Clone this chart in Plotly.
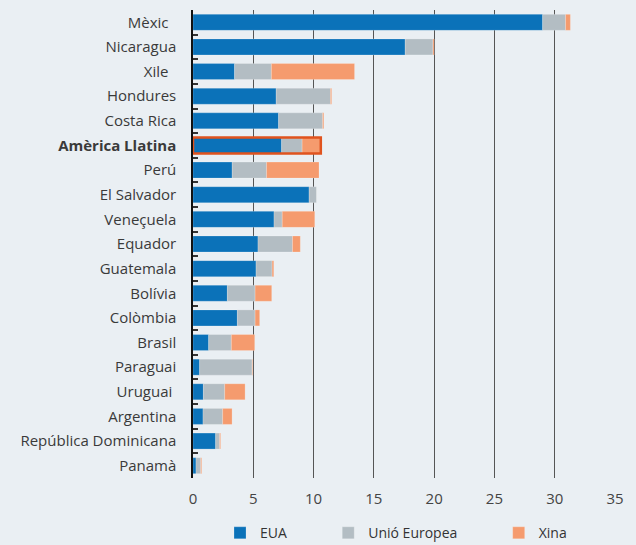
import plotly.graph_objects as go

categories = ["Mèxic\u00a0\u00a0", "Nicaragua", "Xile\u00a0\u00a0", "Hondures", "Costa Rica",
              "<b>Amèrica Llatina</b>", "Perú", "El Salvador", "Veneçuela", "Equador",
              "Guatemala", "Bolívia", "Colòmbia", "Brasil", "Paraguai", "Uruguai\u00a0",
              "Argentina", "República Dominicana", "Panamà"]
eua  = [29.0, 17.6, 3.45, 6.9, 7.1, 7.35, 3.25, 9.63, 6.72, 5.39, 5.23, 2.85, 3.68, 1.3, 0.55, 0.86, 0.83, 1.88, 0.25]
ue   = [1.9, 2.3, 3.05, 4.5, 3.65, 1.7, 2.85, 0.63, 0.68, 2.86, 1.33, 2.3, 1.47, 1.88, 4.35, 1.77, 1.63, 0.33, 0.39]
xina = [0.4, 0.1, 6.9, 0.1, 0.1, 1.55, 4.35, 0.0, 2.7, 0.65, 0.14, 1.38, 0.38, 1.94, 0.05, 1.69, 0.78, 0.08, 0.08]
series_names = ["EUA", "Unió Europea", "Xina"]
highlight = "<b>Amèrica Llatina</b>"
x_ticks = [0, 5, 10, 15, 20, 25, 30, 35]

base_ue = eua
base_xina = [a + b for a, b in zip(eua, ue)]
totals = [a + b + c for a, b, c in zip(eua, ue, xina)]

pad = "\u00a0" * 10
edge = dict(color="rgba(255,255,255,0.35)", width=0.6)
fig = go.Figure()
fig.add_trace(go.Bar(y=categories, x=eua, base=[0]*len(eua), orientation="h", name=series_names[0] + pad,
                     marker=dict(color="#0b72b9", line=edge)))
fig.add_trace(go.Bar(y=categories, x=ue, base=base_ue, orientation="h", name=series_names[1] + pad,
                     marker=dict(color="#b3bdc3", line=edge)))
fig.add_trace(go.Bar(y=categories, x=xina, base=base_xina, orientation="h", name=series_names[2],
                     marker=dict(color="#f59b6e", line=edge)))
hi = categories.index(highlight)
fig.add_trace(go.Bar(y=[highlight], x=[totals[hi]], base=[0], orientation="h",
                     marker=dict(color="rgba(0,0,0,0)", line=dict(color="#e0531e", width=2.5)),
                     showlegend=False, hoverinfo="skip"))

fig.update_layout(
    width=636, height=545,
    margin=dict(l=193, r=21, t=10, b=67, autoexpand=False),
    paper_bgcolor="#eaeff3", plot_bgcolor="#eaeff3",
    barmode="overlay", bargap=0.35,
    font=dict(family="Open Sans, Noto Sans, sans-serif", color="#3a3a3a", size=15),
    showlegend=True,
    legend=dict(orientation="h", x=0.064, y=-0.118, xref="paper", yref="paper",
                xanchor="left", yanchor="middle", font=dict(size=14, color="#333"),
                bgcolor="rgba(0,0,0,0)", itemwidth=30, traceorder="normal"),
)
fig.update_xaxes(range=[0, 35], tickvals=x_ticks, showgrid=True, gridcolor="#555555", gridwidth=1.2,
                 zeroline=False, showline=False, ticks="", ticklabelstandoff=10, automargin=False,
                 tickfont=dict(size=15, color="#444"))
fig.update_yaxes(categoryorder="array", categoryarray=categories, autorange="reversed",
                 showline=True, linecolor="#111", linewidth=1.5, ticks="inside", ticklen=5,
                 tickcolor="#333", tickwidth=2, tickson="boundaries", showgrid=False, automargin=False,
                 ticklabelstandoff=12, tickfont=dict(size=15, color="#3a3a3a"))

fig.write_html("out.html", config={"displayModeBar": False},
               post_script="document.body.style.margin='0';document.body.style.background='#eaeff3';")
